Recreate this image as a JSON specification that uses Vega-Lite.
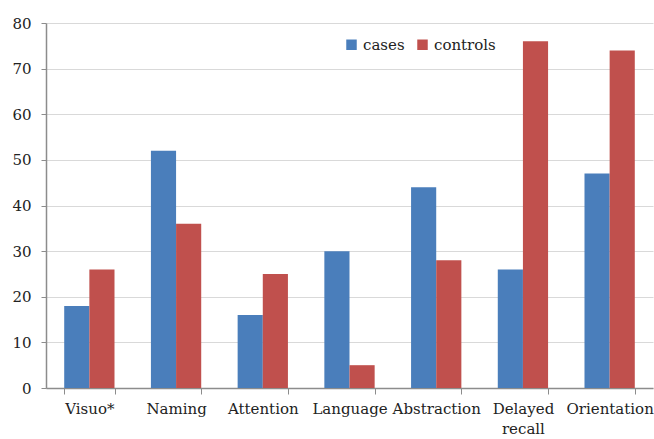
{
  "$schema": "https://vega.github.io/schema/vega-lite/v6.json",
  "width": 607,
  "height": 365,
  "autosize": "none",
  "padding": {"left": 46, "top": 23, "right": 1, "bottom": 51},
  "background": "white",
  "config": {
    "view": {"stroke": null},
    "font": "DejaVu Serif"
  },
  "data": {
    "values": [
      {"category": "Visuo*", "group": "cases", "value": 18},
      {"category": "Visuo*", "group": "controls", "value": 26},
      {"category": "Naming", "group": "cases", "value": 52},
      {"category": "Naming", "group": "controls", "value": 36},
      {"category": "Attention", "group": "cases", "value": 16},
      {"category": "Attention", "group": "controls", "value": 25},
      {"category": "Language", "group": "cases", "value": 30},
      {"category": "Language", "group": "controls", "value": 5},
      {"category": "Abstraction", "group": "cases", "value": 44},
      {"category": "Abstraction", "group": "controls", "value": 28},
      {"category": "Delayed recall", "group": "cases", "value": 26},
      {"category": "Delayed recall", "group": "controls", "value": 76},
      {"category": "Orientation", "group": "cases", "value": 47},
      {"category": "Orientation", "group": "controls", "value": 74}
    ]
  },
  "mark": {"type": "bar"},
  "encoding": {
    "x": {
      "field": "category",
      "type": "nominal",
      "sort": null,
      "scale": {"paddingInner": 0.42, "paddingOuter": 0.21},
      "axis": {
        "title": null,
        "labelAngle": 0,
        "labelFont": "DejaVu Serif",
        "labelFontSize": 15,
        "labelColor": "#222222",
        "labelPadding": 7,
        "labelLineHeight": 20,
        "labelExpr": "datum.value === 'Delayed recall' ? ['Delayed', 'recall'] : datum.value",
        "tickBand": "extent",
        "tickSize": 6,
        "tickColor": "#8c8c8c",
        "domainColor": "#8c8c8c",
        "domainWidth": 1.5,
        "grid": false
      }
    },
    "xOffset": {"field": "group", "type": "nominal", "sort": ["cases", "controls"]},
    "y": {
      "field": "value",
      "type": "quantitative",
      "scale": {"domain": [0, 80]},
      "axis": {
        "title": null,
        "values": [0, 10, 20, 30, 40, 50, 60, 70, 80],
        "labelFont": "DejaVu Serif",
        "labelFontSize": 15,
        "labelColor": "#222222",
        "labelPadding": 10,
        "tickSize": 5,
        "tickColor": "#8c8c8c",
        "domainColor": "#8c8c8c",
        "domainWidth": 1.5,
        "gridColor": "#d9d9d9",
        "gridWidth": 1.2
      }
    },
    "color": {
      "field": "group",
      "type": "nominal",
      "scale": {"domain": ["cases", "controls"], "range": ["#4a7ebb", "#c0504d"]},
      "legend": {
        "title": null,
        "orient": "none",
        "direction": "horizontal",
        "legendX": 298,
        "legendY": 14,
        "symbolType": "square",
        "symbolSize": 110,
        "symbolStrokeWidth": 0,
        "labelFont": "DejaVu Serif",
        "labelFontSize": 15,
        "labelColor": "#222222",
        "columnPadding": 10,
        "labelOffset": 4
      }
    }
  }
}
